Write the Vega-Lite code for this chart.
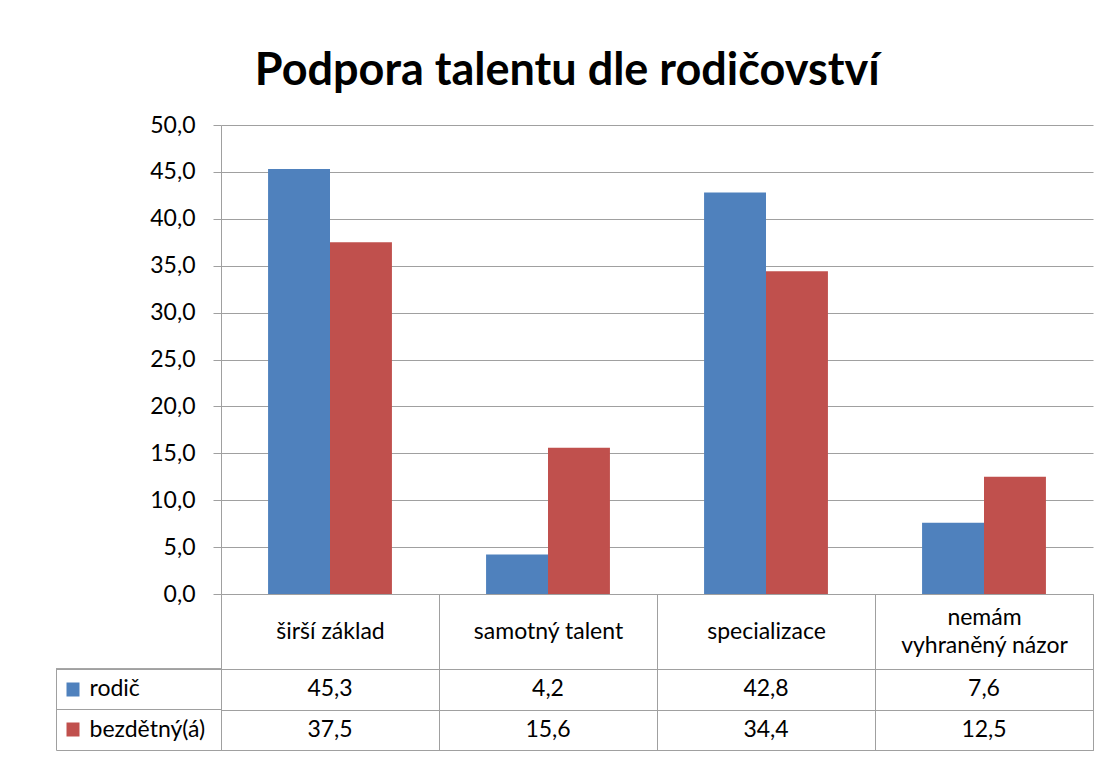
{
  "$schema": "https://vega.github.io/schema/vega-lite/v6.json",
  "padding": {"left": 55, "top": 49, "right": 17, "bottom": 8},
  "background": "white",
  "config": {
    "locale": {"number": {"decimal": ",", "thousands": " ", "grouping": [3], "currency": ["", " Kč"]}},
    "font": "Lato",
    "view": {"stroke": null},
    "axis": {"labelFont": "Lato", "labelColor": "#000000", "labelFontSize": 23}
  },
  "title": {"text": "Podpora talentu dle rodičovství", "fontSize": 45, "font": "Lato", "fontWeight": "bold", "color": "#000000", "anchor": "middle", "offset": 20, "dx": -7},
  "datasets": {
    "d": [
      {"kategorie": "širší základ", "skupina": "rodič", "hodnota": 45.3},
      {"kategorie": "širší základ", "skupina": "bezdětný(á)", "hodnota": 37.5},
      {"kategorie": "samotný talent", "skupina": "rodič", "hodnota": 4.2},
      {"kategorie": "samotný talent", "skupina": "bezdětný(á)", "hodnota": 15.6},
      {"kategorie": "specializace", "skupina": "rodič", "hodnota": 42.8},
      {"kategorie": "specializace", "skupina": "bezdětný(á)", "hodnota": 34.4},
      {"kategorie": "nemám vyhraněný názor", "skupina": "rodič", "hodnota": 7.6},
      {"kategorie": "nemám vyhraněný názor", "skupina": "bezdětný(á)", "hodnota": 12.5}
    ]
  },
  "bounds": "flush",
  "columns": 2,
  "spacing": {"row": 75, "column": 0},
  "concat": [
    {
      "width": 165,
      "height": 469,
      "data": {"values": [{"t": ""}]},
      "mark": {"type": "text"},
      "encoding": {"text": {"field": "t"}}
    },
    {
      "width": 872,
      "height": 469,
      "data": {"name": "d"},
      "mark": {"type": "bar"},
      "encoding": {
        "x": {
          "field": "kategorie", "type": "nominal",
          "sort": ["širší základ", "samotný talent", "specializace", "nemám vyhraněný názor"],
          "scale": {"paddingInner": 0, "paddingOuter": 0},
          "axis": {
            "title": null, "labelAngle": 0, "tickBand": "extent", "tickSize": 75,
            "tickColor": "#a0a0a0", "domainColor": "#a0a0a0", "labelBaseline": "middle",
            "labelPadding": {"condition": {"test": "datum.value === 'nemám vyhraněný názor'", "value": -52}, "value": -38},
            "labelLineHeight": 28,
            "labelExpr": "datum.label == 'nemám vyhraněný názor' ? ['nemám', 'vyhraněný názor'] : datum.label"
          }
        },
        "xOffset": {
          "field": "skupina", "type": "nominal", "sort": ["rodič", "bezdětný(á)"],
          "scale": {"paddingInner": 0, "paddingOuter": 0.76}
        },
        "y": {
          "field": "hodnota", "type": "quantitative",
          "scale": {"domain": [0, 50], "nice": false},
          "axis": {
            "title": null, "values": [0, 5, 10, 15, 20, 25, 30, 35, 40, 45, 50], "format": ".1f",
            "grid": true, "gridColor": "#a0a0a0", "gridOpacity": 1, "tickSize": 8, "tickColor": "#a0a0a0",
            "domainColor": "#a0a0a0", "labelPadding": 18
          }
        },
        "color": {
          "field": "skupina", "type": "nominal",
          "scale": {"domain": ["rodič", "bezdětný(á)"], "range": ["#4F81BD", "#C0504D"]},
          "legend": null
        }
      }
    },
    {
      "width": 165,
      "height": 81,
      "view": {"stroke": "#a0a0a0"},
      "data": {"name": "d"},
      "mark": {"type": "rule", "color": "#a0a0a0"},
      "encoding": {
        "y": {
          "field": "skupina", "type": "nominal", "sort": ["rodič", "bezdětný(á)"], "bandPosition": 0,
          "scale": {"paddingInner": 0, "paddingOuter": 0},
          "axis": {
            "title": null, "orient": "left", "offset": -23, "domain": false, "grid": false,
            "tickSize": 13, "tickWidth": 14,
            "tickColor": {"condition": {"test": "datum.value === 'rodič'", "value": "#4F81BD"}, "value": "#C0504D"},
            "labelAlign": "left", "labelPadding": -23, "labelBaseline": "middle"
          }
        }
      }
    },
    {
      "width": 872,
      "height": 81,
      "view": {"stroke": "#a0a0a0"},
      "data": {"name": "d"},
      "mark": {"type": "text", "fontSize": 23, "font": "Lato", "color": "#000000"},
      "encoding": {
        "x": {
          "field": "kategorie", "type": "nominal",
          "sort": ["širší základ", "samotný talent", "specializace", "nemám vyhraněný názor"],
          "scale": {"paddingInner": 0, "paddingOuter": 0},
          "axis": {"title": null, "labels": false, "ticks": false, "domain": false, "grid": true, "tickBand": "extent", "gridColor": "#a0a0a0", "gridOpacity": 1}
        },
        "y": {
          "field": "skupina", "type": "nominal", "sort": ["rodič", "bezdětný(á)"],
          "scale": {"paddingInner": 0, "paddingOuter": 0},
          "axis": {"title": null, "labels": false, "ticks": false, "domain": false, "grid": true, "tickBand": "extent", "gridColor": "#a0a0a0", "gridOpacity": 1}
        },
        "text": {"field": "hodnota", "type": "quantitative", "format": ".1f"}
      }
    }
  ]
}
